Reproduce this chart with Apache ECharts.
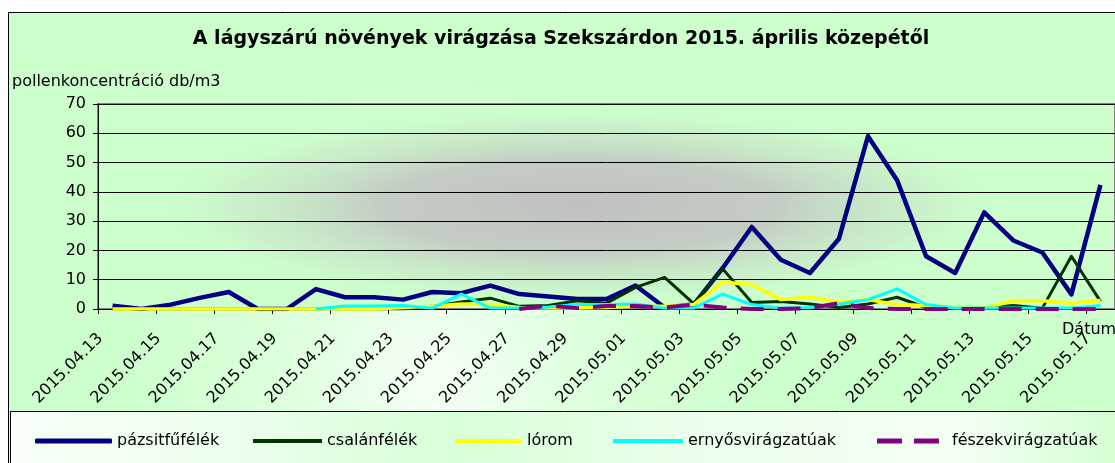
<!DOCTYPE html>
<html>
<head>
<meta charset="utf-8">
<script src="https://cdn.jsdelivr.net/npm/echarts@6/dist/echarts.min.js"></script>
<style>
  html, body { margin: 0; padding: 0; background: #fff; overflow: hidden; }
  #chart { width: 1115px; height: 463px; }
</style>
</head>
<body>
<div id="chart"></div>
<script>
// dátumok (kategóriák)
var dates = [
  '2015.04.13','2015.04.14','2015.04.15','2015.04.16','2015.04.17','2015.04.18','2015.04.19',
  '2015.04.20','2015.04.21','2015.04.22','2015.04.23','2015.04.24','2015.04.25','2015.04.26',
  '2015.04.27','2015.04.28','2015.04.29','2015.04.30','2015.05.01','2015.05.02','2015.05.03',
  '2015.05.04','2015.05.05','2015.05.06','2015.05.07','2015.05.08','2015.05.09','2015.05.10',
  '2015.05.11','2015.05.12','2015.05.13','2015.05.14','2015.05.15','2015.05.16','2015.05.17'
];
var seriesNames = ['pázsitfűfélék', 'csalánfélék', 'lórom', 'ernyősvirágzatúak', 'fészekvirágzatúak'];

// pollenkoncentráció db/m3, leolvasva
var pazsitfufelek = [1.1, 0, 1.5, 3.8, 5.8, 0, 0, 6.8, 4, 4, 3.2, 5.8, 5.4, 8, 5.1, 4.3, 3.4, 3.4,
  8, 0.5, 1.5, 14, 28, 16.8, 12.3, 24, 59, 44, 18, 12.3, 33, 23.4, 19.3, 5, 42.4];
var csalanfelek = [0, 0, 0, 0, 0, 0, 0, 0, 0, 0, 0, 0.9, 2.4, 3.7, 0.9, 1.2, 2.8, 2,
  7.4, 10.8, 1.8, 13.7, 2.2, 2.6, 1.7, 0.5, 1.7, 4, 0.5, 0.3, 0.3, 1.2, 0.3, 18, 2.6];
var lorom = [0, 0, 0, 0, 0, 0, 0, 0, 0, 0, 0.5, 0.9, 1.7, 1.5, 0.5, 0.3, 0.3, 0.5,
  0.9, 0.9, 1.5, 9.2, 8.3, 3.2, 4, 2.4, 3.2, 1.5, 1.2, 0.7, 0.3, 2.8, 2.8, 2, 2.9];
var ernyosviragzatuak = [null, null, null, null, null, null, null, 0, 1, 1, 1.2, 0.3, 5.1, 0.3, 0.3, 0.7, 1.5, 1.5,
  1.7, 0.3, 0.3, 5.1, 1.5, 0.3, 0.5, 1.7, 3.2, 6.9, 1.5, 0.3, 0.3, 0.3, 0.3, 0.3, 1.2];
var feszekviragzatuak = [null, null, null, null, null, null, null, null, null, null, null, null, null, null, 0, 1.2, 0.3, 1,
  1, 0.5, 1.5, 0.5, 0, 0, 0.3, 2, 0.3, 0, 0, 0, 0, 0, 0, 0, 0];

var yTicks = [0, 70, 10];

var font = '"DejaVu Sans", Verdana, sans-serif';
var myChart = echarts.init(document.getElementById('chart'));

var colors = ['#000080', '#003300', '#ffff00', '#00ffff', '#800080'];
var widths = [4.5, 3, 3.5, 3, 4];
var values = [pazsitfufelek, csalanfelek, lorom, ernyosviragzatuak, feszekviragzatuak];

var series = [];
for (var i = 0; i < seriesNames.length; i++) {
  series.push({
    name: seriesNames[i],
    type: 'line',
    data: values[i],
    symbol: 'none',
    connectNulls: false,
    animation: false,
    color: colors[i],
    lineStyle: {
      color: colors[i],
      width: widths[i],
      type: i == 4 ? [23, 14] : 'solid',
      join: 'round'
    }
  });
}

// jelmagyarázat: elemenként külön, hogy a helyük stimmeljen
var legendLeft = [30, 248, 450, 608, 872];
var legendW = [77, 69, 67, 70, 62];
var legendH = [5, 4, 4, 4, 5];
var legend = [];
for (var k = 0; k < seriesNames.length; k++) {
  legend.push({
    data: [{
      name: seriesNames[k],
      icon: k == 4 ? 'path://M0,0h25v5h-25z M37,0h25v5h-25z' : (k == 0 ? 'roundRect' : 'rect')
    }],
    left: legendLeft[k],
    top: 428,
    itemWidth: legendW[k],
    itemHeight: legendH[k],
    itemGap: 0,
    selectedMode: false,
    textStyle: { color: '#000', fontSize: 16, fontFamily: font, padding: k == 4 ? [0, 0, 0, 8] : 0 }
  });
}

var option = {
  backgroundColor: '#ffffff',
  animation: false,
  legend: legend,
  grid: {
    left: 98,
    top: 104,
    width: 1020,
    height: 205,
    show: true,
    borderColor: '#808080',
    borderWidth: 2,
    backgroundColor: 'transparent'
  },
  xAxis: {
    type: 'category',
    data: dates,
    boundaryGap: true,
    axisLine: { lineStyle: { color: '#000', width: 1 } },
    axisTick: { show: true, interval: 1, length: 5, lineStyle: { color: '#000' } },
    axisLabel: {
      interval: 1, rotate: 45, color: '#000', fontSize: 16, fontFamily: font,
      margin: 15, padding: [0, 17, 0, 0]
    }
  },
  yAxis: {
    type: 'value',
    min: yTicks[0],
    max: yTicks[1],
    interval: yTicks[2],
    axisLine: { show: true, lineStyle: { color: '#000', width: 1 } },
    axisTick: { show: true, length: 5, lineStyle: { color: '#000' } },
    axisLabel: { color: '#000', fontSize: 16, fontFamily: font, margin: 12 },
    splitLine: { show: true, lineStyle: { color: '#000', width: 1 } }
  },
  graphic: [
    {
      type: 'rect', z: -20, silent: true,
      shape: { x: 8.5, y: 12.5, width: 1120, height: 460 },
      style: {
        stroke: '#000', lineWidth: 1,
        fill: {
          type: 'radial', x: 0.38, y: 0.8, r: 1.0,
          colorStops: [
            { offset: 0, color: '#f6fff6' },
            { offset: 0.35, color: '#dcffdc' },
            { offset: 0.7, color: '#ccffcc' },
            { offset: 1, color: '#ccffcc' }
          ]
        }
      }
    },
    {
      type: 'rect', z: -15, silent: true,
      shape: { x: 98, y: 104, width: 1020, height: 205 },
      style: { fill: '#ccffcc' }
    },
    {
      type: 'circle', z: -14, silent: true,
      shape: { cx: 0, cy: 0, r: 100 },
      x: 580, y: 206, scaleX: 4.4, scaleY: 1.02,
      style: {
        fill: {
          type: 'radial', x: 0.5, y: 0.5, r: 0.5,
          colorStops: [
            { offset: 0, color: 'rgba(192,192,192,1)' },
            { offset: 0.45, color: 'rgba(195,202,195,0.95)' },
            { offset: 0.8, color: 'rgba(200,230,200,0.5)' },
            { offset: 1, color: 'rgba(204,255,204,0)' }
          ]
        }
      }
    },
    {
      type: 'rect', z: -12, silent: true,
      shape: { x: 10.5, y: 411.5, width: 1110, height: 60 },
      style: {
        stroke: '#000', lineWidth: 1,
        fill: {
          type: 'linear', x: 0, y: 0, x2: 1, y2: 0,
          colorStops: [
            { offset: 0, color: '#f8fff8' },
            { offset: 0.2, color: '#ecffec' },
            { offset: 0.4, color: '#d8ffd8' },
            { offset: 0.6, color: '#eaffea' },
            { offset: 0.85, color: '#f4fff4' },
            { offset: 1, color: '#d4ffd4' }
          ]
        }
      }
    },
    {
      type: 'text', silent: true,
      x: 561, y: 39,
      style: {
        text: 'A lágyszárú növények virágzása Szekszárdon 2015. április közepétől',
        fill: '#000', font: 'bold 19px ' + font, textAlign: 'center', textVerticalAlign: 'middle'
      }
    },
    {
      type: 'text', silent: true,
      x: 12, y: 82,
      style: { text: 'pollenkoncentráció db/m3', fill: '#000', font: '16px ' + font, textVerticalAlign: 'middle' }
    },
    {
      type: 'text', silent: true,
      x: 1062, y: 330,
      style: { text: 'Dátum', fill: '#000', font: '16px ' + font, textVerticalAlign: 'middle' }
    }
  ],
  series: series
};
myChart.setOption(option);
</script>
</body>
</html>
